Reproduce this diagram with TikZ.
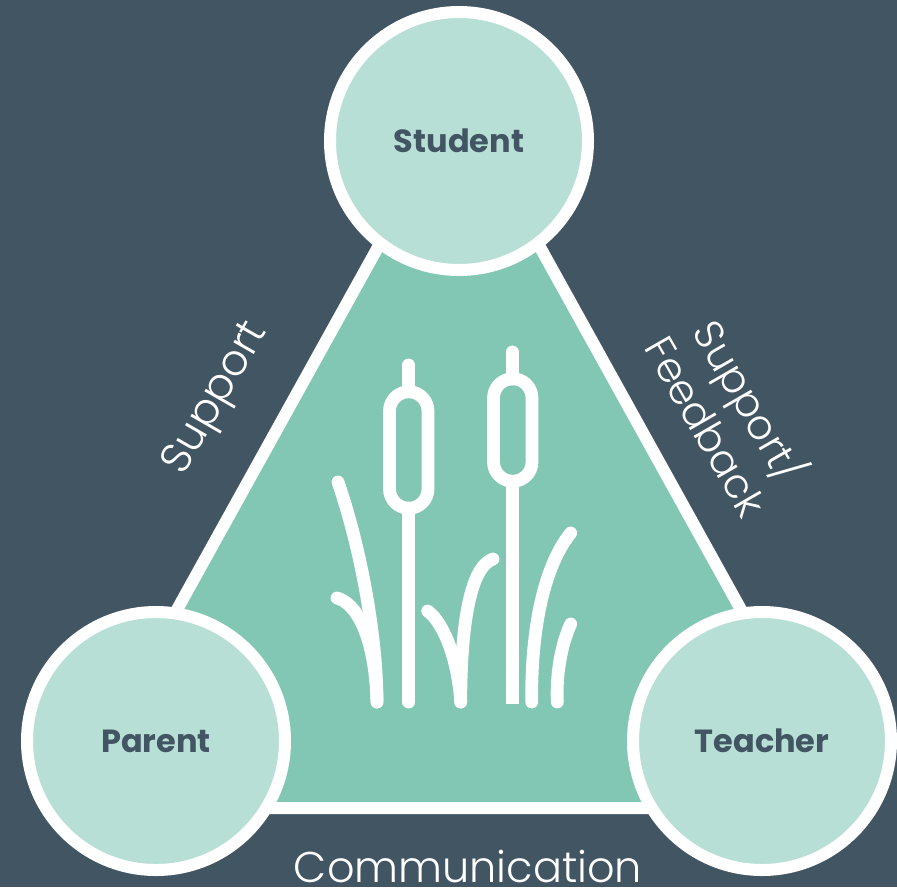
\documentclass[tikz,border=0pt]{standalone}
\usepackage{fontspec}
\setmainfont{Poppins}
\newfontfamily\lightf{Poppins Light}
\newfontfamily\boldf{Poppins Bold}
\definecolor{slate}{HTML}{425563}
\definecolor{midgreen}{HTML}{82C6B4}
\definecolor{palegreen}{HTML}{B8DFD6}
\tikzset{
  person/.style={circle,draw=white,line width=12pt,fill=palegreen,minimum size=258pt,inner sep=0pt,text=slate,font=\boldf\fontsize{32}{38}\selectfont},
  edgelabel/.style={text=white,align=center,inner sep=0pt,font=\lightf\fontsize{43}{50}\selectfont},
  reed/.style={draw=white,line width=12.8pt,line cap=round,line join=round}
}
\begin{document}
\begin{tikzpicture}[x=1pt,y=-1pt]
\useasboundingbox (0,0) rectangle (897,887);
\clip (0,0) rectangle (897,887);
\fill[slate] (0,0) rectangle (897,887);
\coordinate (apex) at (459,101);
\coordinate (bl) at (67,808);
\coordinate (br) at (851,808);
\draw[white,fill=midgreen,line width=12pt,line join=miter] (apex) -- (bl) -- (br) -- cycle;
\node[person] (student) at (459,141) {Student};
\node[person] (parent) at (156,741) {Parent};
\node[person] (teacher) at (762,741) {Teacher};
% cattails
\draw[reed] (408.7,365) -- (408.7,391);
\draw[reed] (389.5,411) arc[start angle=180,end angle=360,radius=19.25] -- (428,489) arc[start angle=0,end angle=180,radius=19.25] -- cycle;
\draw[reed] (408.7,508) -- (408.7,702);
\draw[reed] (512.3,352) -- (512.3,379);
\draw[reed] (493.5,398) arc[start angle=180,end angle=360,radius=19.25] -- (532,462) arc[start angle=0,end angle=180,radius=19.25] -- cycle;
\draw[reed,line cap=butt] (512.3,481) -- (512.3,704);
% blades
\draw[reed] (338,482) .. controls (362,552) and (377,640) .. (377,702);
\draw[reed] (337,598) .. controls (356,603) and (375,635) .. (377,702);
\draw[reed] (493,559) .. controls (470,567) and (461,625) .. (460.7,702);
\draw[reed] (427.7,611) .. controls (444,623) and (458,660) .. (460.7,702);
\draw[reed] (570.7,533) .. controls (545,565) and (531,625) .. (531.7,702);
\draw[reed] (570.7,624) .. controls (561,645) and (556,675) .. (557.3,702);
% labels
\node[edgelabel,rotate=60] (lsupport) at (217,399) {Support};
\node[edgelabel,rotate=-60,font=\lightf\fontsize{41}{50}\selectfont] (lfeedback) at (731,412) {Support/\\Feedback};
\node[edgelabel] (lcomm) at (468,867) {Communication};
\end{tikzpicture}
\end{document}
